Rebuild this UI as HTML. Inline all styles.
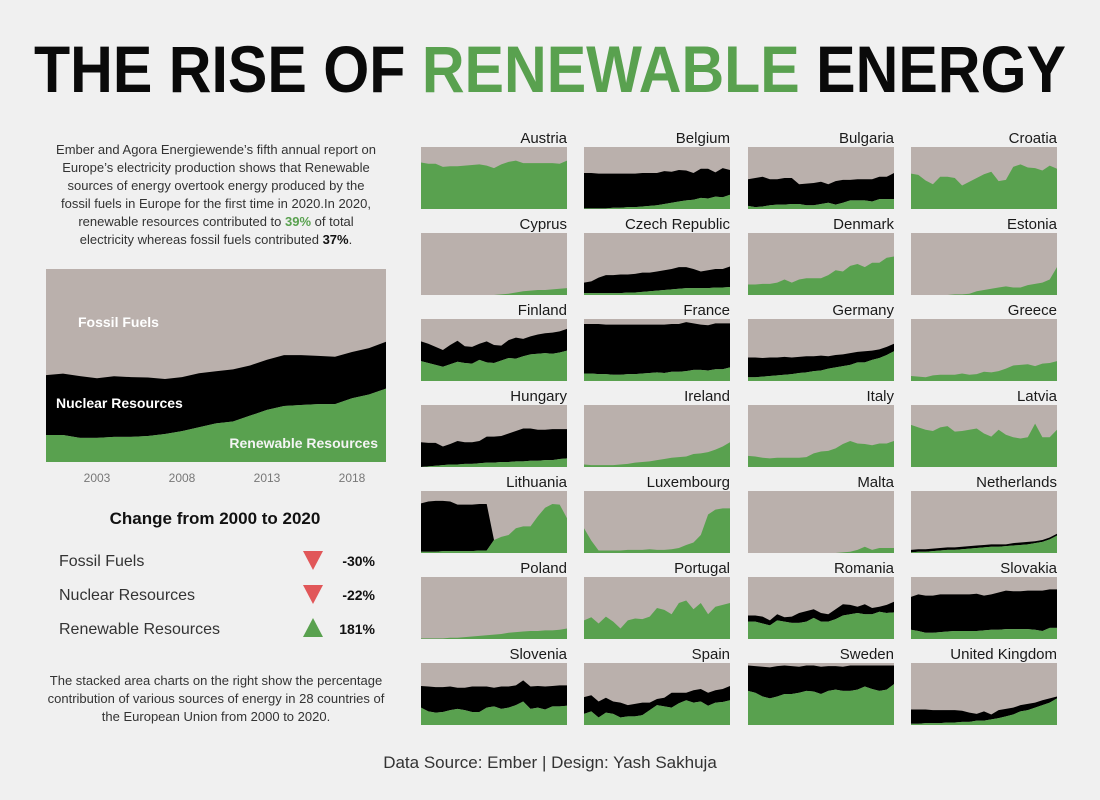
<!DOCTYPE html>
<html><head><meta charset="utf-8">
<style>
html,body{margin:0;padding:0;background:#f0f0f0;}
svg{display:block;font-family:"Liberation Sans",sans-serif;}
</style></head>
<body>
<svg id="root" width="1100" height="800" viewBox="0 0 1100 800">
<rect x="0" y="0" width="1100" height="800" fill="#f0f0f0"/>
<text x="550" y="92" text-anchor="middle" font-size="66" font-weight="bold" textLength="1032" lengthAdjust="spacingAndGlyphs" fill="#0a0a0a">THE RISE OF <tspan fill="#59a14f">RENEWABLE</tspan> ENERGY</text>
<g font-size="13" fill="#333" text-anchor="middle">
<text x="216" y="154">Ember and Agora Energiewende’s fifth annual report on</text>
<text x="216" y="172">Europe’s electricity production shows that Renewable</text>
<text x="216" y="190">sources of energy overtook energy produced by the</text>
<text x="216" y="208">fossil fuels in Europe for the first time in 2020.In 2020,</text>
<text x="216" y="226">renewable resources contributed to <tspan font-weight="bold" fill="#59a14f">39%</tspan> of total</text>
<text x="216" y="244">electricity whereas fossil fuels contributed <tspan font-weight="bold" fill="#111">37%</tspan>.</text>
</g>
<g id="mainChart"></g>
<text x="215" y="524" text-anchor="middle" font-size="17" font-weight="bold" fill="#111">Change from 2000 to 2020</text>
<g>
<text x="59" y="566" font-size="16" fill="#333">Fossil Fuels</text>
<polygon points="303,551 323,551 313,570" fill="#e15759"/>
<text x="375" y="566" font-size="14" font-weight="bold" fill="#111" text-anchor="end">-30%</text>
<text x="59" y="600" font-size="16" fill="#333">Nuclear Resources</text>
<polygon points="303,585 323,585 313,604" fill="#e15759"/>
<text x="375" y="600" font-size="14" font-weight="bold" fill="#111" text-anchor="end">-22%</text>
<text x="59" y="634" font-size="16" fill="#333">Renewable Resources</text>
<polygon points="303,637 323,637 313,618" fill="#59a14f"/>
<text x="375" y="634" font-size="14" font-weight="bold" fill="#111" text-anchor="end">181%</text>
</g>
<g font-size="13" fill="#333" text-anchor="middle">
<text x="216" y="685">The stacked area charts on the right show the percentage</text>
<text x="216" y="703">contribution of various sources of energy in 28 countries of</text>
<text x="216" y="721">the European Union from 2000 to 2020.</text>
</g>
<g id="grid"></g>
<text x="550" y="768" text-anchor="middle" font-size="17" fill="#333">Data Source: Ember | Design: Yash Sakhuja</text>
</svg>
<script>
const years = [2000,2001,2002,2003,2004,2005,2006,2007,2008,2009,2010,2011,2012,2013,2014,2015,2016,2017,2018,2019,2020];
const tickYears = [2003,2008,2013,2018];
// Europe: renewable share and renewable+nuclear share (%)
const euRenewable = [14,14,12.5,12.5,13,13,13.5,14.5,16,18,20,21,24,27,29,29.5,30,30,33,35,38];
const euNonFossil = [45,45.8,44.5,43.4,44.4,44,43.8,43,44,46,47,48,50,53,55.4,55.4,55,54.5,57,59,62.3];

const countries = ["Austria","Belgium","Bulgaria","Croatia","Cyprus","Czech Republic","Denmark","Estonia","Finland","France","Germany","Greece","Hungary","Ireland","Italy","Latvia","Lithuania","Luxembourg","Malta","Netherlands","Poland","Portugal","Romania","Slovakia","Slovenia","Spain","Sweden","United Kingdom"];
const renewable = {
"Austria":[75,73,73,68,69,69,70,71,72,70,66,72,76,78,74,74,74,74,74,73,78],
"Belgium":[1,1,1,1,2,2,3,3,4,5,6,8,10,12,14,15,18,17,20,19,23],
"Bulgaria":[5,3,4,6,7,7,8,8,6,6,8,10,7,10,14,14,14,12,16,16,16],
"Croatia":[57,55,46,40,52,52,50,38,44,50,56,60,45,47,68,72,67,66,62,70,65],
"Cyprus":[0,0,0,0,0,0,0,0,0,0,0,1,2,4,6,7,8,8,9,10,11],
"Czech Republic":[3,3,3,3,3,3,4,4,5,6,7,8,9,10,11,11,11,11,12,12,13],
"Denmark":[17,17,18,18,20,25,20,25,27,27,27,32,40,38,47,50,45,52,52,60,62],
"Estonia":[0,0,0,0,0,0,1,1,2,6,8,10,12,14,12,12,16,18,20,25,45],
"Finland":[32,29,26,23,27,31,29,28,34,30,29,33,37,36,40,43,44,45,44,46,49],
"France":[12,12,11,11,10,10,11,11,12,13,14,13,15,15,16,18,18,17,19,19,22],
"Germany":[6,6,7,8,9,10,11,13,14,16,17,20,22,24,26,30,30,34,37,42,48],
"Greece":[8,7,6,9,10,10,10,12,10,11,15,14,16,20,25,26,27,24,28,29,32],
"Hungary":[0,1,2,3,4,4,5,5,6,7,7,8,8,9,9,10,10,11,11,13,14],
"Ireland":[4,3,3,3,3,4,5,7,8,9,11,13,15,16,17,21,22,24,28,33,40],
"Italy":[18,17,15,14,15,15,15,15,16,22,25,26,30,37,42,38,37,35,38,38,42],
"Latvia":[68,64,60,58,64,66,57,58,60,62,54,49,60,52,48,46,48,70,48,48,60],
"Lithuania":[2,2,2,3,3,3,3,3,4,4,21,26,29,40,43,43,59,73,79,78,56],
"Luxembourg":[40,20,4,4,4,4,5,5,5,6,5,5,6,8,13,17,29,62,70,72,72],
"Malta":[0,0,0,0,0,0,0,0,0,0,0,0,0,1,2,5,10,5,8,8,8],
"Netherlands":[1,2,2,3,4,5,5,6,7,8,9,10,10,11,12,13,14,16,18,22,28],
"Poland":[1,1,1,1,2,2,3,4,5,6,7,8,10,11,12,13,13,14,14,15,17],
"Portugal":[30,35,25,36,28,17,30,33,32,36,50,47,40,58,62,48,58,40,52,55,58],
"Romania":[28,28,25,22,30,28,26,26,28,34,28,28,32,38,40,42,40,40,44,42,43],
"Slovakia":[15,13,10,10,11,12,13,13,13,13,14,15,15,16,16,16,16,15,13,18,18],
"Slovenia":[28,22,20,21,24,26,24,21,21,28,30,26,28,32,38,26,28,25,30,30,31],
"Spain":[18,22,12,20,18,12,14,14,16,24,32,30,28,35,40,36,38,31,36,37,40],
"Sweden":[55,52,46,43,46,50,50,52,55,54,50,55,57,55,55,57,62,58,55,57,66],
"United Kingdom":[2,2,3,3,3,4,4,5,5,7,7,9,11,14,17,22,24,28,32,36,43]
};
// renewable + nuclear share (%) for countries with nuclear power
const nonFossil = {
"Belgium":[58,58,57,57,57,57,57,57,58,58,58,61,60,63,62,58,65,65,59,66,63],
"Bulgaria":[48,50,52,48,48,50,50,40,41,42,44,40,45,47,47,48,48,48,52,52,58],
"Czech Republic":[20,22,28,32,32,33,33,34,36,36,38,40,42,45,45,42,38,40,42,42,46],
"Finland":[64,60,55,50,58,65,56,55,60,64,58,57,66,70,68,72,75,77,78,80,84],
"France":[92,92,92,91,91,91,91,91,91,91,91,91,92,92,95,93,91,90,93,93,93],
"Germany":[38,38,37,38,38,39,38,39,40,40,41,40,42,43,45,47,48,49,51,55,60],
"Hungary":[40,39,39,33,37,42,40,40,42,49,49,50,54,58,62,62,60,60,61,61,61],
"Lithuania":[80,83,84,84,83,78,78,78,79,79,21,26,29,40,43,43,59,73,79,78,56],
"Netherlands":[5,6,6,7,8,9,9,10,11,12,13,14,14,14,16,17,18,19,21,25,31],
"Romania":[38,38,36,30,40,35,36,42,45,48,42,40,48,56,55,52,56,50,52,55,60],
"Slovakia":[68,72,70,70,72,72,72,72,72,73,70,72,75,78,77,77,78,78,78,80,80],
"Slovenia":[63,62,61,61,62,60,60,62,62,62,60,62,62,64,72,62,63,62,63,64,64],
"Spain":[45,48,38,44,38,36,32,34,36,36,42,44,52,52,52,56,58,52,56,58,63],
"Sweden":[96,95,94,93,95,96,95,94,96,96,94,95,95,94,96,96,96,96,96,96,96],
"United Kingdom":[25,25,25,24,24,24,24,23,20,18,22,17,24,26,28,32,34,36,40,43,46]
};

const NS = "http://www.w3.org/2000/svg";
const GRAY = "#bab0ac", GREEN = "#59a14f", BLACK = "#000";
function mk(tag, attrs, parent){ const e=document.createElementNS(NS,tag); for(const k in attrs) e.setAttribute(k,attrs[k]); parent.appendChild(e); return e; }
function xScale(x0,w){ const y0=years[0], y1=years[years.length-1]; return y=>x0+(y-y0)/(y1-y0)*w; }
function yScale(y0,h){ return v=>y0+h-v/100*h; }
function areaPath(sx,sy,top,bottom){
  let d="";
  years.forEach((yr,i)=>{ d+=(i?"L":"M")+sx(yr).toFixed(2)+","+sy(top[i]).toFixed(2); });
  for(let i=years.length-1;i>=0;i--) d+="L"+sx(years[i]).toFixed(2)+","+sy(bottom[i]).toFixed(2);
  return d+"Z";
}
const zeros = years.map(()=>0);

// Main chart
(function(){
  const g=document.getElementById("mainChart");
  const X0=46,Y0=269,W=340,H=193;
  const sx=xScale(X0,W), sy=yScale(Y0,H);
  const bg=mk("rect",{x:X0,y:Y0,width:W,height:H,fill:GRAY},g);
  
  
  const nuc=mk("path",{d:areaPath(sx,sy,euNonFossil,euRenewable),fill:BLACK},g);
  
  
  const ren=mk("path",{d:areaPath(sx,sy,euRenewable,zeros),fill:GREEN},g);
  
  
  tickYears.forEach(t=>{
    const tx=mk("text",{x:sx(t),y:482,"text-anchor":"middle","font-size":12,fill:"#777"},g);
    tx.textContent=t;
    
    
  });
  const l1=mk("text",{x:78,y:327,"font-size":14,"font-weight":"bold",fill:"#fff"},g); l1.textContent="Fossil Fuels";
  
  
  const l2=mk("text",{x:56,y:408,"font-size":14,"font-weight":"bold",fill:"#fff"},g); l2.textContent="Nuclear Resources";
  
  
  const l3=mk("text",{x:378,y:448,"font-size":14,"font-weight":"bold",fill:"#f4f4f4","text-anchor":"end"},g); l3.textContent="Renewable Resources";
  
  
})();

// Small multiples
(function(){
  const grid=document.getElementById("grid");
  const colX=[421,584,748,911], W=146, H=62, TOP=147, STEP=86;
  countries.forEach((c,i)=>{
    const col=i%4,row=Math.floor(i/4);
    const x0=colX[col], y0=TOP+row*STEP;
    const g=mk("g",{},grid);
    
    
    const t=mk("text",{x:x0+W,y:y0-4,"text-anchor":"end","font-size":15,fill:"#1a1a1a"},g);
    t.textContent=c;
    
    
    const sx=xScale(x0,W), sy=yScale(y0,H);
    const bg=mk("rect",{x:x0,y:y0,width:W,height:H,fill:GRAY},g);
    
    
    const r=renewable[c];
    if(nonFossil[c]){
      const n=mk("path",{d:areaPath(sx,sy,nonFossil[c],r),fill:BLACK},g);
      
      
    }
    const p=mk("path",{d:areaPath(sx,sy,r,zeros),fill:GREEN},g);
    
    
  });
})();
</script>
</body></html>
